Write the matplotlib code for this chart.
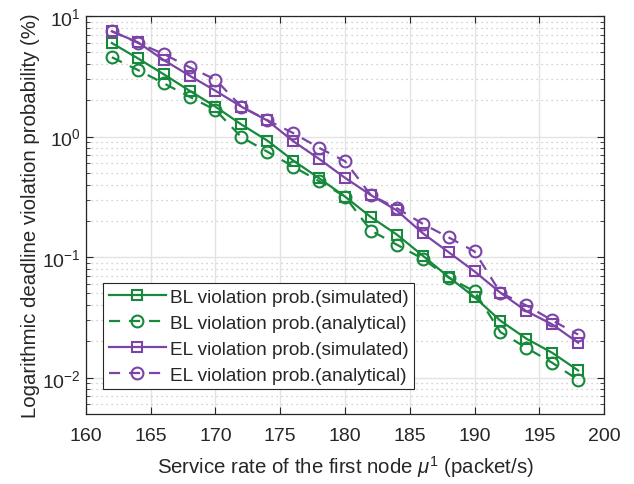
import matplotlib
matplotlib.use("Agg")
import matplotlib.pyplot as plt
from matplotlib.ticker import LogLocator, NullFormatter

plt.rcParams['font.family'] = ['Liberation Sans', 'DejaVu Sans']
plt.rcParams['mathtext.fontset'] = 'custom'
plt.rcParams['mathtext.rm'] = 'Liberation Sans'
plt.rcParams['mathtext.it'] = 'Liberation Sans:italic'

# service rate (packet/s)
mu = [162, 164, 166, 168, 170, 172, 174, 176, 178, 180,
      182, 184, 186, 188, 190, 192, 194, 196, 198]

# violation probability (%)
bl_sim = [5.97, 4.46, 3.29, 2.40, 1.77, 1.26, 0.927, 0.633, 0.452, 0.318,
          0.215, 0.154, 0.103, 0.0684, 0.0467, 0.0297, 0.0211, 0.0161, 0.0115]
bl_ana = [4.55, 3.57, 2.77, 2.14, 1.66, 0.99, 0.75, 0.564, 0.427, 0.318,
          0.166, 0.127, 0.097, 0.0677, 0.0520, 0.0239, 0.0177, 0.0133, 0.0096]
el_sim = [7.47, 6.06, 4.32, 3.20, 2.40, 1.77, 1.36, 0.916, 0.653, 0.455,
          0.327, 0.244, 0.158, 0.110, 0.0762, 0.0507, 0.0357, 0.0277, 0.0195]
el_ana = [7.47, 6.0, 4.84, 3.76, 2.97, 1.77, 1.37, 1.07, 0.806, 0.625,
          0.327, 0.255, 0.189, 0.146, 0.1115, 0.0507, 0.0398, 0.0299, 0.0228]

green = '#16893c'
purple = '#7b44a6'
txt = '#262626'

fig = plt.figure(figsize=(6.34, 4.85), dpi=100)
ax = fig.add_axes([0.1356, 0.1443, 0.8171, 0.8206])

ax.plot(mu, bl_sim, '-', color=green, lw=1.6, marker='s', ms=6.5, mfc='none', mew=1.5,
        label='BL violation prob.(simulated)')
ax.plot(mu, bl_ana, '--', color=green, lw=1.6, marker='o', ms=8.5, mfc='none', mew=1.5,
        dashes=(5, 4), label='BL violation prob.(analytical)')
ax.plot(mu, el_sim, '-', color=purple, lw=1.6, marker='s', ms=6.5, mfc='none', mew=1.5,
        label='EL violation prob.(simulated)')
ax.plot(mu, el_ana, '--', color=purple, lw=1.6, marker='o', ms=8.5, mfc='none', mew=1.5,
        dashes=(5, 4), label='EL violation prob.(analytical)')

ax.set_yscale('log')
ax.set_xlim(160, 200)
ax.set_ylim(0.005, 10)
ax.set_xticks(range(160, 201, 5))
ax.yaxis.set_major_locator(LogLocator(base=10, numticks=10))
ax.yaxis.set_minor_locator(LogLocator(base=10, subs=range(2, 10), numticks=20))
ax.yaxis.set_minor_formatter(NullFormatter())

ax.grid(True, which='major', color='#e3e3e3', lw=1.0, ls='-')
ax.grid(True, which='minor', axis='y', color='#c4c4c4', lw=0.9, ls=(0, (1, 3)))
ax.set_axisbelow(True)

ax.tick_params(which='both', direction='in', top=True, right=True,
               labelsize=14, colors=txt)
ax.tick_params(which='major', length=5)
ax.tick_params(which='minor', length=3)
ax.tick_params(axis='x', pad=9)
for s in ax.spines.values():
    s.set_color(txt)
    s.set_linewidth(0.9)

ax.set_xlabel(r'Service rate of the first node $\mu^1$ (packet/s)', fontsize=14.7,
              color=txt, labelpad=7)
ax.set_ylabel('Logarithmic deadline violation probability (%)', fontsize=14.7,
              color=txt, labelpad=2)

leg = ax.legend(loc='lower left', bbox_to_anchor=(0.033, 0.062), fontsize=13.7,
                fancybox=False, edgecolor=txt, framealpha=1, handlelength=3,
                handletextpad=0.2, borderpad=0.3, labelspacing=0.45, borderaxespad=0)
for t in leg.get_texts():
    t.set_color(txt)
leg.get_frame().set_linewidth(0.8)

fig.savefig('out.png', dpi=100)
